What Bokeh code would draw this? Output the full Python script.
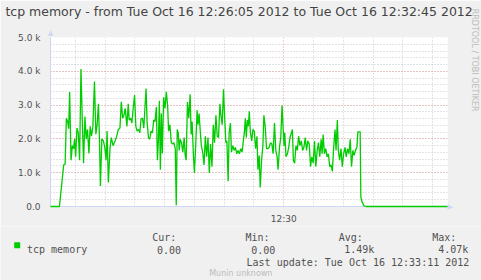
from bokeh.plotting import figure
from bokeh.models import (Range1d, FixedTicker, SingleIntervalTicker, LinearAxis,
                          ColumnDataSource)
from bokeh.layouts import column
from bokeh.core.properties import value
from bokeh.embed import file_html
from bokeh.resources import INLINE

# ---------------- data (seconds since 12:26:05, tcp memory in bytes) -------------
t_sec = [0, 9, 13.3, 14.7, 16, 17.3, 18.3, 19.3, 20.7, 22, 23.3, 24.3, 25.3, 26.7,
         28, 29.3, 30.7, 32, 33.3, 34.7, 36, 37.3, 38.7, 40, 41.3, 42.7, 44.3, 45.7,
         47, 48.3, 49.3, 50.3, 51.7, 53.3, 54.7, 56, 57, 58.3, 60, 61.3, 63, 65,
         66.7, 68.3, 70, 71.3, 72.7, 74, 75.3, 77, 78.3,
         79.3, 80.7, 82, 83.3, 84.7, 86, 87.3, 88.7, 90, 91.3, 92.7, 94, 95.3, 96.3,
         97.3, 98.7, 100, 101.3, 102.7, 104, 105.3, 106.7, 107.7, 108.7, 109.7,
         110.7, 111.7, 112.7, 114, 115.3, 116.7, 118, 119, 120.3, 121.7, 123,
         124.3, 125.7, 126.7, 127.7, 128.7, 129.7, 130.7, 132, 133.3, 134.7,
         135.7, 136.7, 138, 139.3, 140.7, 141.7, 142.7, 144, 145, 146.3, 147.7,
         148.7, 149.7, 151, 152, 153.3, 154.7, 156,
         157.3, 158.7, 160, 161.3, 162.7, 164, 165.3, 166.7, 168, 169.3, 170.7,
         171.7, 173, 174.3, 175.3, 176.7, 177.7, 179, 180, 181.3, 182.3, 183.7,
         185, 186.3, 187.7, 189, 190.3, 191.7, 193, 194.3, 195.3, 196.3, 197.3,
         198.3, 199.3, 200.3, 201.3, 202.7, 204, 205.3, 206.7, 208, 209, 210.3,
         211.3, 212.7, 214, 215, 216.3, 217.7, 219, 220.3, 221.7, 223, 224.3,
         225.7, 227, 228.3, 229.3, 230.7, 232, 233.3, 234.3, 235.3,
         236, 237.3, 238.7, 240, 241.3, 242.7, 243.7, 244.7, 246, 247.3, 248.7,
         250, 251.3, 252.7, 254, 255.3, 256.7, 258, 259.3, 260.7, 262, 263.3,
         264.7, 266, 267.3, 268.7, 270, 271.3, 272.7, 273.7, 274.7, 276, 277.3,
         278.7, 280, 281.3, 282.7, 284, 285.3, 286.7, 287.7, 289, 290, 291.3,
         292.7, 294, 295.3, 296.7, 298, 299.3, 300.7, 302, 303.3, 304.7, 306,
         307.3, 308.7, 309.7, 312, 312.7, 314, 316, 318, 400]
tcp_memory = [0, 0, 1230, 1250, 2610, 2510, 2300, 3390, 1370, 1800, 1710, 2000, 1470, 2320,
              2180, 1370, 4070, 2610, 1280, 2660, 2000, 2280, 1570, 2370, 2080, 2370, 3700, 2140,
              2420, 3040, 2040, 610, 2000, 1940, 1750, 1370, 2230, 710, 1750, 2040, 1800, 1940,
              2080, 2280, 2320, 3100, 2610, 2700, 2900, 2370, 3040,
              2560, 2610, 2470, 2900, 3300, 2370, 2230, 2280, 2180, 2610, 2610, 2320, 2990, 3490,
              2510, 2040, 1990, 2230, 2180, 2560, 2510, 2940, 1370, 1940, 3130,
              1090, 2750, 1570, 3230, 2900, 3390, 2990, 2230, 2420, 1890, 1850,
              1890, 1710, 40, 2280, 2180, 1660, 1990, 1890, 1610, 2040,
              1510, 1370, 3090, 2610, 3320, 2130, 2510, 1510, 990, 1800, 2850,
              2420, 2750, 2180, 1800, 1610, 1230, 2080,
              1470, 2040, 990, 1850, 1180, 2420, 1890, 2700, 2080, 2040, 3040,
              2700, 2420, 3470, 2750, 1890, 1940, 750, 2180, 2470, 1610, 1800,
              1660, 1750, 1560, 1660, 1560, 1710, 1610, 1940, 2180, 2610, 2040,
              2560, 2370, 2820, 2230, 1940, 2280, 2230, 1710, 2080, 1090, 1510,
              560, 1370, 1800, 2700, 2370, 1710, 1710, 1750, 1890, 1850, 1560,
              2470, 1660, 1470, 1090, 1750, 2040, 2990, 2370, 1800,
              2180, 1470, 1560, 1750, 2040, 2180, 2280, 1370, 1280, 1800, 1660,
              2080, 1800, 1940, 1660, 1750, 2040, 1660, 1940, 1850, 1180, 1470,
              1280, 1940, 1180, 1660, 1890, 1470, 1990, 1560, 2130, 1560, 1710,
              1470, 1560, 1180, 1230, 1040, 1750, 2280, 1660, 2560, 1660, 1370,
              1710, 1180, 1560, 1750, 1470, 1710, 1560, 1990, 1180, 1660, 1510,
              1660, 1750, 2210, 2210, 280, 130, 20, 0, 0]

y_ticks = [0, 1000, 2000, 3000, 4000, 5000]
y_tick_labels = ["0.0", "1.0 k", "2.0 k", "3.0 k", "4.0 k", "5.0 k"]
x_major_ticks = [235]                      # 12:30:00
x_major_labels = ["12:30"]
x_minor_ticks = [25, 55, 85, 115, 145, 175, 205, 265, 295, 325, 355, 385]

title_text = "tcp memory - from Tue Oct 16 12:26:05 2012 to Tue Oct 16 12:32:45 2012"
series_name = "tcp memory"
stat_headers = ["Cur:", "Min:", "Avg:", "Max:"]
stat_values = ["0.00", "0.00", "1.49k", "4.07k"]
last_update = "Last update: Tue Oct 16 12:33:11 2012"
footer = "Munin unknown"
watermark = "RRDTOOL / TOBI OETIKER"

# ---------------- styling ----------------
BG = "#F0F0F0"
FONT_C = "#505050"
AXIS_C = "#CFD6F8"
GREEN = "#00CC00"


def no_frame_align(fig):
    if "frame_align" in fig.properties():
        fig.frame_align = False


def bare_axis(ax, font, size, color, standoff):
    ax.axis_line_color = None
    ax.major_tick_line_color = None
    ax.minor_tick_line_color = None
    ax.major_tick_out = 0
    ax.major_tick_in = 0
    ax.major_label_standoff = standoff
    ax.major_label_text_font = font
    ax.major_label_text_font_size = size
    ax.major_label_text_color = color


# ---------------- main graph ----------------
p = figure(width=481, height=226, output_backend="svg", toolbar_location=None,
           min_border_left=50, min_border_right=30, min_border_top=33,
           min_border_bottom=18, x_range=Range1d(0, 400), y_range=Range1d(0, 5000))
no_frame_align(p)
p.background_fill_color = "white"
p.border_fill_color = BG
p.outline_line_color = None

p.yaxis.ticker = SingleIntervalTicker(interval=1000, num_minor_ticks=5)
p.yaxis.major_label_overrides = {v: s for v, s in zip(y_ticks, y_tick_labels)}
p.xaxis.ticker = FixedTicker(ticks=x_major_ticks, minor_ticks=x_minor_ticks)
p.xaxis.major_label_overrides = {v: s for v, s in zip(x_major_ticks, x_major_labels)}
for ax in (p.xaxis, p.yaxis):
    ax.major_tick_line_color = None
    ax.minor_tick_line_color = None
    ax.major_tick_out = 0
    ax.axis_line_color = AXIS_C
    ax.major_label_text_font = "DejaVu Sans"
    ax.major_label_text_font_size = "9px"
    ax.major_label_text_color = FONT_C
p.yaxis.major_label_standoff = 6
p.xaxis.major_label_standoff = 3

for g in (p.xgrid, p.ygrid):
    g.grid_line_color = "#E4A0A0"
    g.grid_line_dash = "1 2"
    g.minor_grid_line_color = "#C8C8C8"
    g.minor_grid_line_dash = "1 2"

src = ColumnDataSource(data=dict(t=t_sec, v=tcp_memory))
p.line("t", "v", source=src, line_color=GREEN, line_width=1.3, level="annotation")

# arrow head on top of the value axis (closest to the graph)
up_arrow = LinearAxis(ticker=FixedTicker(ticks=[0]),
                      major_label_overrides={0: "\u25B2"})
bare_axis(up_arrow, "DejaVu Sans", "7px", AXIS_C, 1)
p.add_layout(up_arrow, "above")

# graph title, carried by a label-only axis above the graph
title_axis = LinearAxis(ticker=FixedTicker(ticks=[190]),
                        major_label_overrides={190: title_text})
bare_axis(title_axis, "DejaVu Sans", "12.5px", "#444444", 7)
p.add_layout(title_axis, "above")

# arrow head at the end of the time axis (closest to the graph)
right_arrow = LinearAxis(ticker=FixedTicker(ticks=[0]),
                         major_label_overrides={0: "\u25B6"})
bare_axis(right_arrow, "DejaVu Sans", "7px", AXIS_C, 0)
p.add_layout(right_arrow, "right")

# vertical RRDtool credit on the right edge
credit_axis = LinearAxis(ticker=FixedTicker(ticks=[4330]),
                         major_label_overrides={4330: watermark},
                         major_label_orientation="vertical")
bare_axis(credit_axis, "DejaVu Sans", "8px", "#BBBBBB", 14)
p.add_layout(credit_axis, "right")

# ---------------- legend strip (y = pixel row of the page) ----------------
q = figure(width=481, height=54, output_backend="svg", toolbar_location=None,
           min_border=0, x_axis_location=None, y_axis_location=None,
           x_range=Range1d(0, 481), y_range=Range1d(280, 226))
no_frame_align(q)
q.background_fill_color = BG
q.border_fill_color = BG
q.outline_line_color = None
q.grid.visible = False

mono = value("DejaVu Sans Mono")
q.text(x=[151.7, 245, 338.3, 431.7], y=[236.7] * 4, text=stat_headers,
       text_font=mono, text_font_size="10px", text_color=FONT_C,
       text_align="left", text_baseline="alphabetic")
q.text(x=[180.5, 274.8, 373.8, 467.8], y=[249.3] * 4, text=stat_values,
       text_font=mono, text_font_size="10px", text_color=FONT_C,
       text_align="right", text_baseline="alphabetic")
q.text(x=[26.5], y=[249.3], text=[series_name], text_font=mono,
       text_font_size="10px", text_color=FONT_C, text_align="left",
       text_baseline="alphabetic")
q.text(x=[468.8], y=[262], text=[last_update], text_font=mono,
       text_font_size="10px", text_color=FONT_C, text_align="right",
       text_baseline="alphabetic")
q.text(x=[240.3], y=[272.7], text=[footer], text_font=value("DejaVu Sans"),
       text_font_size="8px", text_color="#BBBBBB", text_align="center",
       text_baseline="alphabetic")
q.scatter(x=[16.7], y=[244.7], marker="square", size=6, fill_color=GREEN,
          line_color=None)

layout = column(p, q, spacing=0)
open("out.html", "w").write(file_html(layout, INLINE))
